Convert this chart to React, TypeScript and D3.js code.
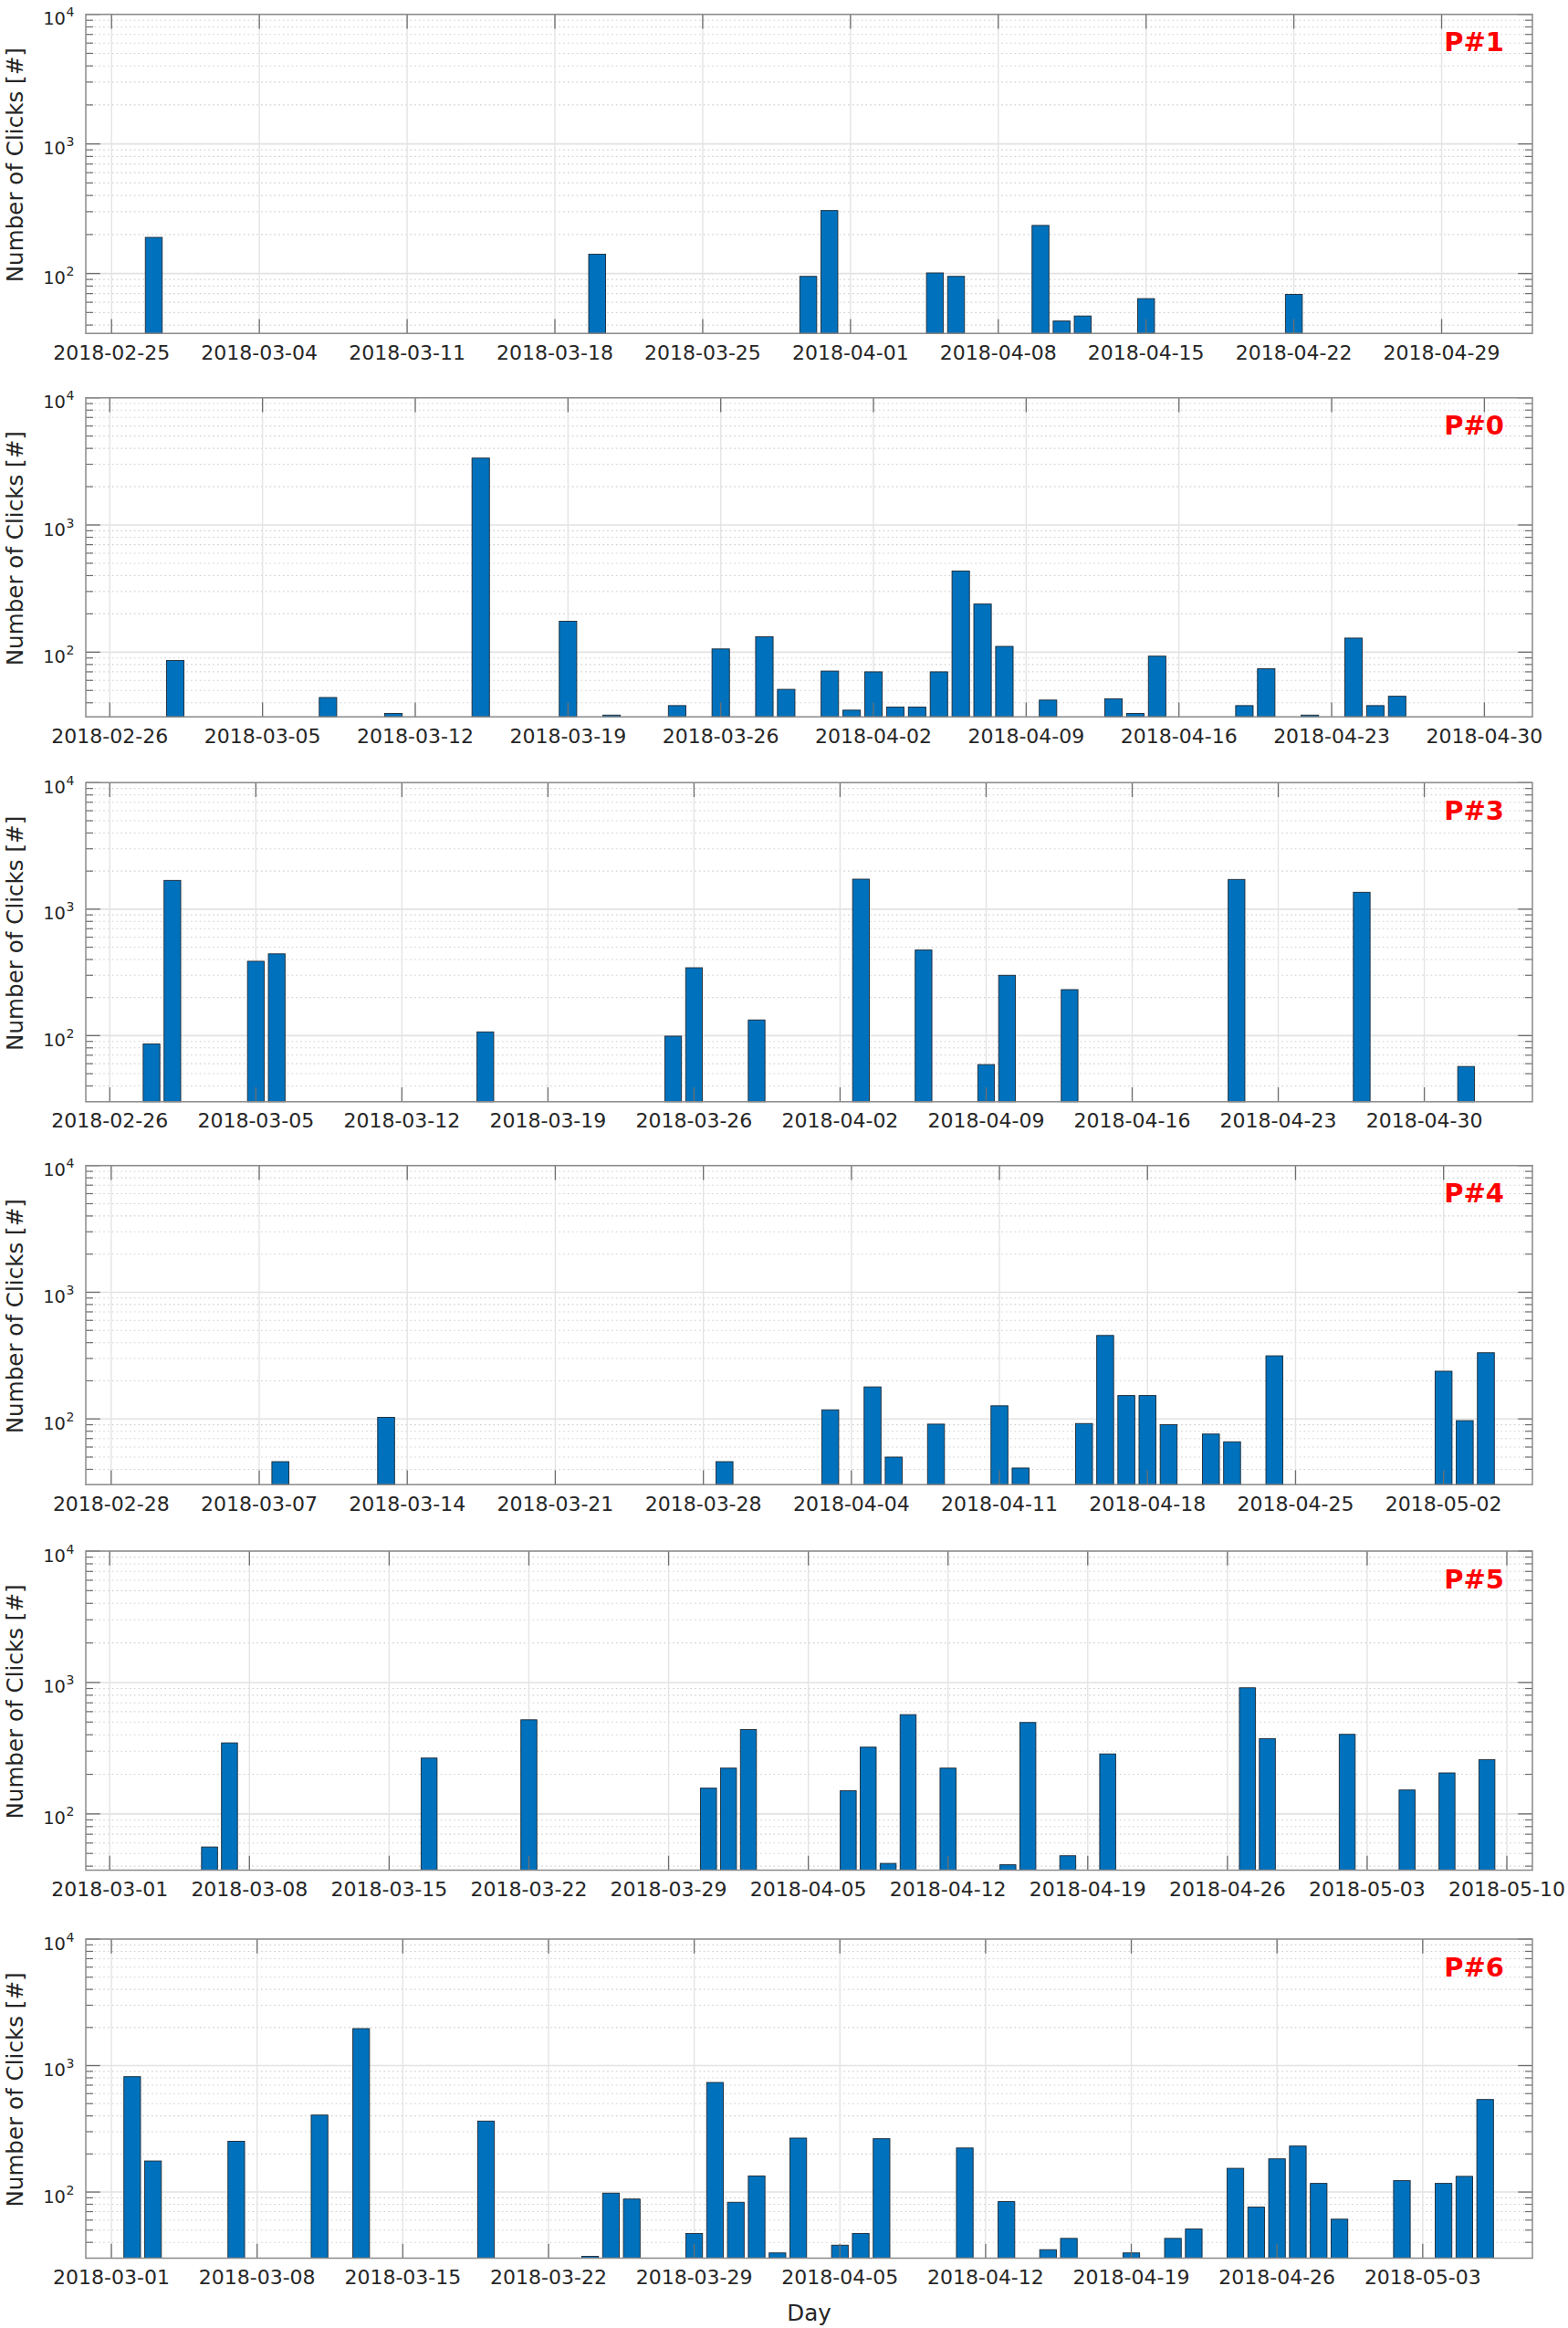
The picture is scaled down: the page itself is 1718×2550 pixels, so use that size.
import React from "react";
import * as d3 from "d3";

// ---------- DATA ----------
const p1Dates = ["2018-02-27","2018-03-20","2018-03-30","2018-03-31","2018-04-05","2018-04-06","2018-04-10","2018-04-11","2018-04-12","2018-04-15","2018-04-22"];
const p1Values = [190,141,95,306,101,95,235,43,47,64,69];

const p0Dates = ["2018-03-01","2018-03-08","2018-03-11","2018-03-15","2018-03-19","2018-03-21","2018-03-24","2018-03-26","2018-03-28","2018-03-29","2018-03-31","2018-04-01","2018-04-02","2018-04-03","2018-04-04","2018-04-05","2018-04-06","2018-04-07","2018-04-08","2018-04-10","2018-04-13","2018-04-14","2018-04-15","2018-04-19","2018-04-20","2018-04-22","2018-04-24","2018-04-25","2018-04-26"];
const p0Values = [86,44,33,3355,175,32,38,106,132,51,71,35,70,37,37,70,434,239,111,42,43,33,93,38,74,32,129,38,45];

const p3Dates = ["2018-02-28","2018-03-01","2018-03-05","2018-03-06","2018-03-16","2018-03-25","2018-03-26","2018-03-29","2018-04-03","2018-04-06","2018-04-09","2018-04-10","2018-04-13","2018-04-21","2018-04-27","2018-05-02"];
const p3Values = [86,1688,387,443,107,99,344,133,1726,475,59,300,231,1717,1360,57];

const p4Dates = ["2018-03-08","2018-03-13","2018-03-29","2018-04-03","2018-04-05","2018-04-06","2018-04-08","2018-04-11","2018-04-12","2018-04-15","2018-04-16","2018-04-17","2018-04-18","2018-04-19","2018-04-21","2018-04-22","2018-04-24","2018-05-02","2018-05-03","2018-05-04"];
const p4Values = [46,103,46,118,179,50,91,127,41,92,456,153,153,90,76,66,315,238,97,333];

const p5Dates = ["2018-03-06","2018-03-07","2018-03-17","2018-03-22","2018-03-31","2018-04-01","2018-04-02","2018-04-07","2018-04-08","2018-04-09","2018-04-10","2018-04-12","2018-04-15","2018-04-16","2018-04-18","2018-04-20","2018-04-27","2018-04-28","2018-05-02","2018-05-05","2018-05-07","2018-05-09"];
const p5Values = [56,347,266,520,157,223,438,150,322,42,569,223,41,496,48,286,911,374,403,152,205,259];

const p6Dates = ["2018-03-02","2018-03-03","2018-03-07","2018-03-11","2018-03-13","2018-03-19","2018-03-24","2018-03-25","2018-03-26","2018-03-29","2018-03-30","2018-03-31","2018-04-01","2018-04-02","2018-04-03","2018-04-05","2018-04-06","2018-04-07","2018-04-11","2018-04-13","2018-04-15","2018-04-16","2018-04-19","2018-04-21","2018-04-22","2018-04-24","2018-04-25","2018-04-26","2018-04-27","2018-04-28","2018-04-29","2018-05-02","2018-05-04","2018-05-05","2018-05-06"];
const p6Values = [817,176,252,406,1960,364,31,98,88,47,735,83,134,33,267,38,47,264,223,84,35,43,33,43,51,154,76,183,231,117,61,123,117,133,539];

const panelLabels = ["P#1", "P#0", "P#3", "P#4", "P#5", "P#6"];
const panelDates = [p1Dates, p0Dates, p3Dates, p4Dates, p5Dates, p6Dates];
const panelValues = [p1Values, p0Values, p3Values, p4Values, p5Values, p6Values];
const tickStarts = ["2018-02-25", "2018-02-26", "2018-02-26", "2018-02-28", "2018-03-01", "2018-03-01"];
const xLimStart = ["2018-02-23T18:43", "2018-02-24T21:36", "2018-02-24T20:24", "2018-02-26T19:12", "2018-02-27T19:12", "2018-02-27T18:29"];
const xLimEnd = ["2018-05-03T07:12", "2018-05-02T04:48", "2018-05-05T04:19", "2018-05-06T04:48", "2018-05-11T06:43", "2018-05-08T06:29"];
const yMins = [34.5, 31, 30, 30.3, 37.3, 30];
const yMax = 10000;
const yTickExponents = [2, 3, 4];
const yLabel = "Number of Clicks [#]";
const xLabel = "Day";

// ---------- LAYOUT ----------
const W = 1718;
const H = 2550;
const LEFT = 94;
const RIGHT = 1679;
const TOPS = [15.7, 435.7, 857.3, 1276.7, 1699, 2124];
const PH = 349.5;
const FONT = "DejaVu Sans, Verdana, sans-serif";
const DAY = 864e5;

const parseDay = d3.utcParse("%Y-%m-%d");
const parseDT = d3.utcParse("%Y-%m-%dT%H:%M");
const fmt = d3.utcFormat("%Y-%m-%d");

function Panel({ i }: { i: number }) {
  const top = TOPS[i];
  const bottom = top + PH;
  const x0 = parseDT(xLimStart[i]) as Date;
  const x1 = parseDT(xLimEnd[i]) as Date;
  const x = d3.scaleUtc().domain([x0, x1]).range([LEFT, RIGHT]);
  const y = d3.scaleLog().domain([yMins[i], yMax]).range([bottom, top]);

  const ticks: Date[] = [];
  let t = parseDay(tickStarts[i]) as Date;
  while (t <= x1) {
    ticks.push(t);
    t = d3.utcDay.offset(t, 7);
  }

  const minor: number[] = [];
  for (let k = 1; k <= 3; k++) {
    for (let m = 2; m <= 9; m++) {
      const v = m * Math.pow(10, k);
      if (v > yMins[i] && v < yMax) minor.push(v);
    }
  }

  const dates = panelDates[i].map((d) => parseDay(d) as Date);
  const vals = panelValues[i];
  const tickLen = 15.8;
  const minorLen = 8;

  return (
    <g>
      {minor.map((v, j) => (
        <line key={"mg" + j} x1={LEFT} x2={RIGHT} y1={y(v)} y2={y(v)} stroke="#cfcfcf" strokeWidth={1.1} strokeDasharray="1.6,3.2" />
      ))}
      {yTickExponents.map((e) => (
        <line key={"yg" + e} x1={LEFT} x2={RIGHT} y1={y(Math.pow(10, e))} y2={y(Math.pow(10, e))} stroke="#e2e2e2" strokeWidth={1.6} />
      ))}
      {ticks.map((d, j) => (
        <line key={"xg" + j} x1={x(d)} x2={x(d)} y1={top} y2={bottom} stroke="#e4e4e4" strokeWidth={1.4} />
      ))}
      {dates.map((d, j) => {
        const xa = x(new Date(d.getTime() - 0.4 * DAY));
        const xb = x(new Date(d.getTime() + 0.4 * DAY));
        const yt = y(vals[j]);
        return (
          <rect key={"b" + j} x={xa} y={yt} width={xb - xa} height={bottom - yt} fill="#0072BD" stroke="#1b2733" strokeWidth={0.9} />
        );
      })}
      {ticks.map((d, j) => (
        <g key={"xt" + j}>
          <line x1={x(d)} x2={x(d)} y1={bottom} y2={bottom - tickLen} stroke="#6e6e6e" strokeWidth={1.3} />
          <line x1={x(d)} x2={x(d)} y1={top} y2={top + tickLen} stroke="#6e6e6e" strokeWidth={1.3} />
          <text x={x(d)} y={bottom + 28.5} textAnchor="middle" fontFamily={FONT} fontSize={22} fill="#262626">
            {fmt(d)}
          </text>
        </g>
      ))}
      {minor.map((v, j) => (
        <g key={"ym" + j}>
          <line x1={LEFT} x2={LEFT + minorLen} y1={y(v)} y2={y(v)} stroke="#6e6e6e" strokeWidth={1.2} />
          <line x1={RIGHT} x2={RIGHT - minorLen} y1={y(v)} y2={y(v)} stroke="#6e6e6e" strokeWidth={1.2} />
        </g>
      ))}
      {yTickExponents.map((e) => {
        const ty = y(Math.pow(10, e));
        return (
          <g key={"yt" + e}>
            <line x1={LEFT} x2={LEFT + tickLen} y1={ty} y2={ty} stroke="#6e6e6e" strokeWidth={1.3} />
            <line x1={RIGHT} x2={RIGHT - tickLen} y1={ty} y2={ty} stroke="#6e6e6e" strokeWidth={1.3} />
            <text x={72} y={ty + 11.5} textAnchor="end" fontFamily={FONT} fontSize={19.5} fill="#262626">10</text>
            <text x={72.5} y={ty + 2.5} fontFamily={FONT} fontSize={14} fill="#262626">{e}</text>
          </g>
        );
      })}
      <rect x={LEFT} y={top} width={RIGHT - LEFT} height={PH} fill="none" stroke="#8a8a8a" strokeWidth={1.5} />
      <text transform={`translate(24.5,${top + 165}) rotate(-90)`} textAnchor="middle" fontFamily={FONT} fontSize={24.6} fill="#262626">
        {yLabel}
      </text>
      <text x={1648} y={top + 40.5} textAnchor="end" fontFamily={FONT} fontWeight="bold" fontSize={29} fill="#ff0000">
        {panelLabels[i]}
      </text>
    </g>
  );
}

export default function App() {
  return (
    <div style={{ position: "absolute", left: 0, top: 0, width: W, height: H, background: "#fff" }}>
      <svg width={W} height={H} viewBox={`0 0 ${W} ${H}`} style={{ display: "block" }}>
        <rect x={0} y={0} width={W} height={H} fill="#ffffff" />
        {panelLabels.map((_, i) => (
          <Panel key={i} i={i} />
        ))}
        <text x={(LEFT + RIGHT) / 2} y={2541.7} textAnchor="middle" fontFamily={FONT} fontSize={24.6} fill="#262626">
          {xLabel}
        </text>
      </svg>
    </div>
  );
}
